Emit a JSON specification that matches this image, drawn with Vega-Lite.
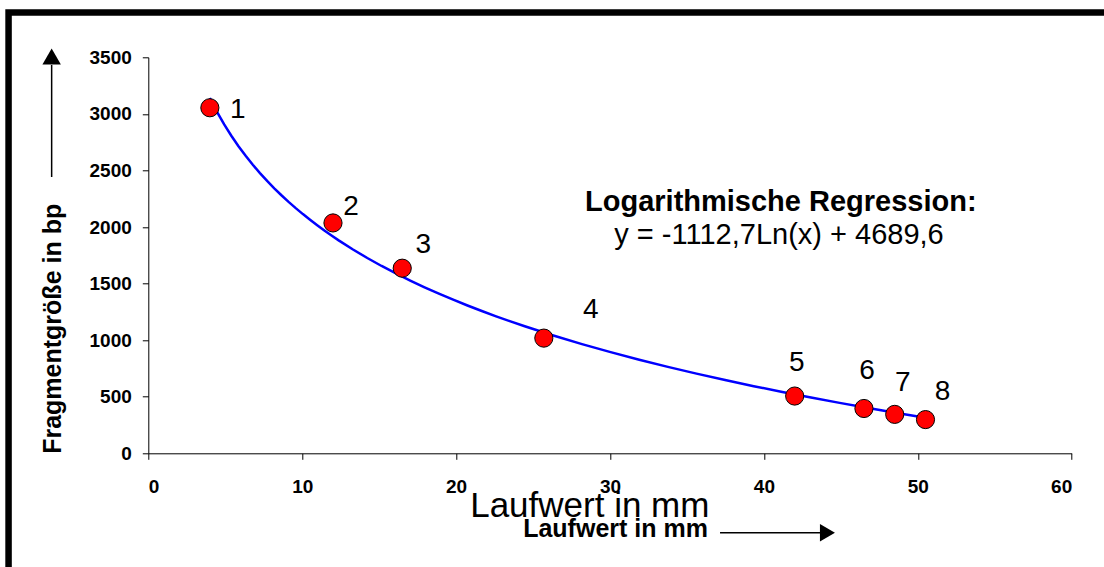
{
  "$schema": "https://vega.github.io/schema/vega-lite/v6.json",
  "width": 923.4,
  "height": 396,
  "autosize": {"type": "none"},
  "padding": {"left": 148.3, "top": 57.3, "right": 32.3, "bottom": 113.7},
  "background": "white",
  "config": {
    "view": {"stroke": null},
    "font": "Liberation Sans",
    "axis": {
      "grid": false,
      "domainColor": "#000000",
      "tickColor": "#000000",
      "labelColor": "#000000",
      "titleColor": "#000000",
      "labelFont": "Liberation Sans",
      "titleFont": "Liberation Sans",
      "labelFontWeight": "bold",
      "labelFontSize": 19,
      "tickSize": 6,
      "domainWidth": 1,
      "tickWidth": 1
    },
    "text": {"font": "Liberation Sans", "color": "#000000"}
  },
  "data": {
    "values": [
      {"n": 1, "x": 4, "y": 3054},
      {"n": 2, "x": 12, "y": 2036},
      {"n": 3, "x": 16.5, "y": 1636},
      {"n": 4, "x": 25.7, "y": 1018},
      {"n": 5, "x": 42, "y": 506},
      {"n": 6, "x": 46.5, "y": 396},
      {"n": 7, "x": 48.5, "y": 344},
      {"n": 8, "x": 50.5, "y": 298}
    ]
  },
  "layer": [
    {
      "data": {"values": [{}]},
      "mark": {"type": "rect", "filled": false, "stroke": "#000000", "strokeWidth": 6.5},
      "encoding": {
        "x": {"datum": -9.08, "type": "quantitative"},
        "x2": {"datum": 80},
        "y": {"datum": 3896, "type": "quantitative"},
        "y2": {"datum": -3000}
      }
    },
    {
      "data": {"values": [{}]},
      "mark": {"type": "rule", "color": "#000000", "strokeWidth": 1.5},
      "encoding": {
        "x": {"datum": -6.28, "type": "quantitative"},
        "y": {"datum": 2442, "type": "quantitative"},
        "y2": {"datum": 3432}
      }
    },
    {
      "data": {"values": [{}]},
      "mark": {"type": "point", "shape": "triangle-up", "filled": true, "color": "#000000", "size": 340, "opacity": 1},
      "encoding": {
        "x": {"datum": -6.28, "type": "quantitative"},
        "y": {"datum": 3507, "type": "quantitative"}
      }
    },
    {
      "data": {"values": [{}]},
      "mark": {"type": "rule", "color": "#000000", "strokeWidth": 1.5},
      "encoding": {
        "x": {"datum": 37.15, "type": "quantitative"},
        "x2": {"datum": 43.8},
        "y": {"datum": -702, "type": "quantitative"}
      }
    },
    {
      "data": {"values": [{}]},
      "mark": {"type": "point", "shape": "triangle-right", "filled": true, "color": "#000000", "size": 300, "opacity": 1},
      "encoding": {
        "x": {"datum": 44.13, "type": "quantitative"},
        "y": {"datum": -702, "type": "quantitative"}
      }
    },
    {
      "data": {"values": [{}]},
      "mark": {"type": "text", "text": "Laufwert in mm", "fontSize": 25, "fontWeight": "bold", "align": "center", "baseline": "alphabetic"},
      "encoding": {
        "x": {"datum": 30.36, "type": "quantitative"},
        "y": {"datum": -740, "type": "quantitative"}
      }
    },
    {
      "data": {"values": [{}]},
      "mark": {"type": "text", "text": "Logarithmische Regression:", "fontSize": 29, "fontWeight": "bold", "align": "center", "baseline": "alphabetic"},
      "encoding": {
        "x": {"datum": 41.1, "type": "quantitative"},
        "y": {"datum": 2141, "type": "quantitative"}
      }
    },
    {
      "data": {"values": [{}]},
      "mark": {"type": "text", "text": "y = -1112,7Ln(x) + 4689,6", "fontSize": 29, "align": "center", "baseline": "alphabetic"},
      "encoding": {
        "x": {"datum": 40.98, "type": "quantitative"},
        "y": {"datum": 1850, "type": "quantitative"}
      }
    },
    {
      "transform": [{"regression": "y", "on": "x", "method": "log"}],
      "mark": {"type": "line", "color": "#0000FF", "strokeWidth": 2.5},
      "encoding": {
        "x": {"field": "x", "type": "quantitative"},
        "y": {"field": "y", "type": "quantitative"}
      }
    },
    {
      "mark": {"type": "circle", "fill": "#FF0000", "stroke": "#000000", "strokeWidth": 1, "size": 330, "opacity": 1},
      "encoding": {
        "x": {
          "field": "x", "type": "quantitative",
          "scale": {"domain": [0, 60], "nice": false, "zero": false},
          "axis": {
            "values": [0, 10, 20, 30, 40, 50, 60],
            "format": "d",
            "labelPadding": 18,
            "title": "Laufwert in mm",
            "titleFontSize": 35,
            "titleFontWeight": "normal",
            "titleX": 441,
            "titleY": 62.7,
            "titleBaseline": "alphabetic",
            "titleAlign": "center"
          }
        },
        "y": {
          "field": "y", "type": "quantitative",
          "scale": {"domain": [0, 3500], "nice": false, "zero": false},
          "axis": {
            "values": [0, 500, 1000, 1500, 2000, 2500, 3000, 3500],
            "format": "d",
            "labelPadding": 11,
            "title": "Fragmentgröße in bp",
            "titleFontSize": 25,
            "titleFontWeight": "bold",
            "titleAngle": -90,
            "titleX": -96,
            "titleY": 271,
            "titleBaseline": "middle",
            "titleAlign": "center"
          }
        }
      }
    },
    {"transform": [{"filter": "datum.n == 1"}], "mark": {"type": "text", "fontSize": 28, "align": "center", "baseline": "middle", "dx": 28, "dy": 2}, "encoding": {"x": {"field": "x", "type": "quantitative"}, "y": {"field": "y", "type": "quantitative"}, "text": {"field": "n", "type": "nominal"}}},
    {"transform": [{"filter": "datum.n == 2"}], "mark": {"type": "text", "fontSize": 28, "align": "center", "baseline": "middle", "dx": 18, "dy": -16}, "encoding": {"x": {"field": "x", "type": "quantitative"}, "y": {"field": "y", "type": "quantitative"}, "text": {"field": "n", "type": "nominal"}}},
    {"transform": [{"filter": "datum.n == 3"}], "mark": {"type": "text", "fontSize": 28, "align": "center", "baseline": "middle", "dx": 21, "dy": -23}, "encoding": {"x": {"field": "x", "type": "quantitative"}, "y": {"field": "y", "type": "quantitative"}, "text": {"field": "n", "type": "nominal"}}},
    {"transform": [{"filter": "datum.n == 4"}], "mark": {"type": "text", "fontSize": 28, "align": "center", "baseline": "middle", "dx": 47, "dy": -28}, "encoding": {"x": {"field": "x", "type": "quantitative"}, "y": {"field": "y", "type": "quantitative"}, "text": {"field": "n", "type": "nominal"}}},
    {"transform": [{"filter": "datum.n == 5"}], "mark": {"type": "text", "fontSize": 28, "align": "center", "baseline": "middle", "dx": 2, "dy": -33}, "encoding": {"x": {"field": "x", "type": "quantitative"}, "y": {"field": "y", "type": "quantitative"}, "text": {"field": "n", "type": "nominal"}}},
    {"transform": [{"filter": "datum.n == 6"}], "mark": {"type": "text", "fontSize": 28, "align": "center", "baseline": "middle", "dx": 3, "dy": -37}, "encoding": {"x": {"field": "x", "type": "quantitative"}, "y": {"field": "y", "type": "quantitative"}, "text": {"field": "n", "type": "nominal"}}},
    {"transform": [{"filter": "datum.n == 7"}], "mark": {"type": "text", "fontSize": 28, "align": "center", "baseline": "middle", "dx": 8, "dy": -31}, "encoding": {"x": {"field": "x", "type": "quantitative"}, "y": {"field": "y", "type": "quantitative"}, "text": {"field": "n", "type": "nominal"}}},
    {"transform": [{"filter": "datum.n == 8"}], "mark": {"type": "text", "fontSize": 28, "align": "center", "baseline": "middle", "dx": 17, "dy": -28}, "encoding": {"x": {"field": "x", "type": "quantitative"}, "y": {"field": "y", "type": "quantitative"}, "text": {"field": "n", "type": "nominal"}}}
  ]
}
